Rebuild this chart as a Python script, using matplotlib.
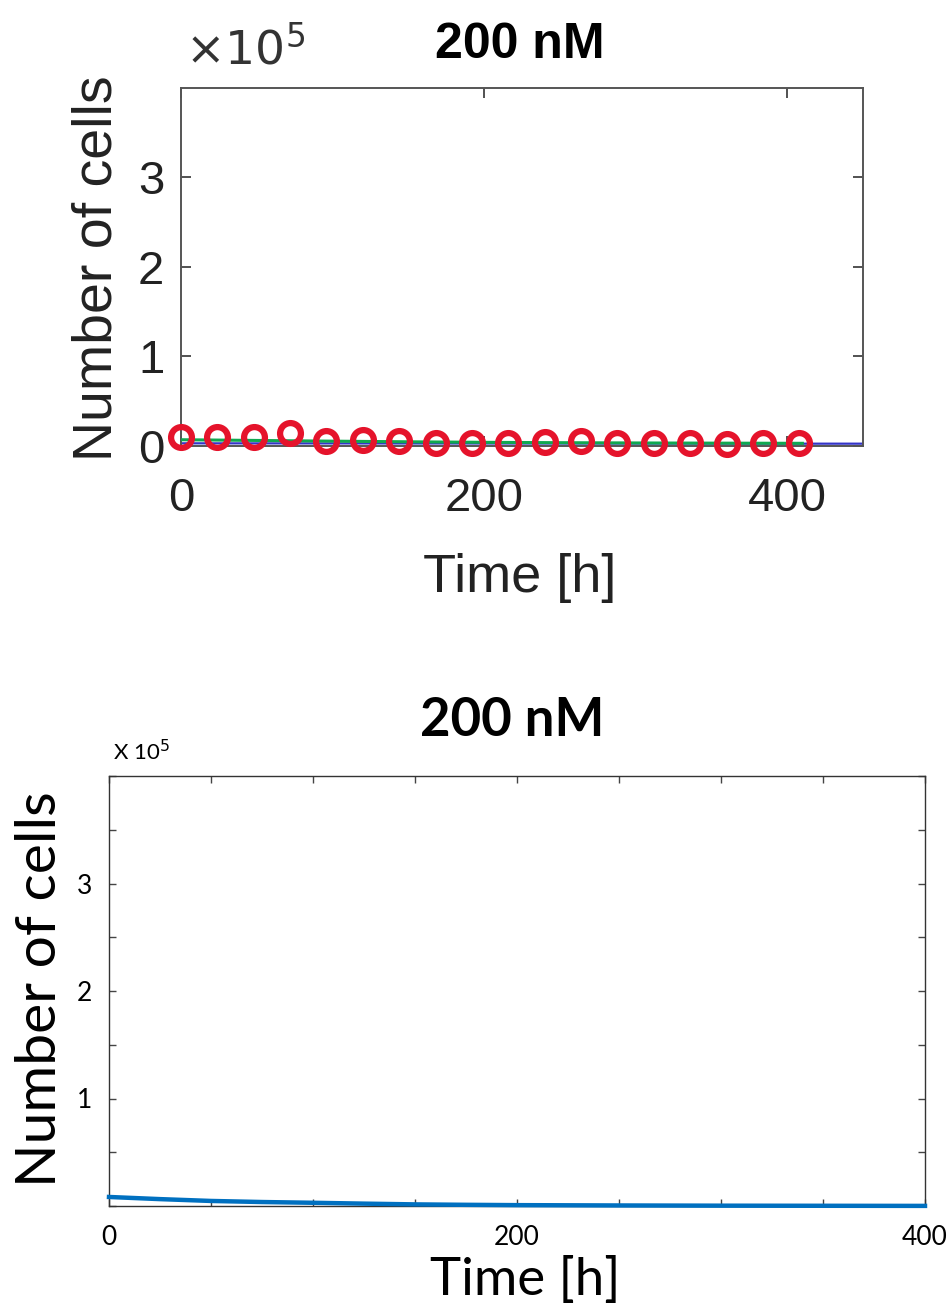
import numpy as np
import matplotlib
matplotlib.use("Agg")
import matplotlib.pyplot as plt
from matplotlib.ticker import MultipleLocator, FixedLocator

# ---- data ----
# top panel: measured cell counts (red circles), every 24 h
t_obs = [0, 24, 48, 72, 96, 120, 144, 168, 192, 216, 240, 264, 288, 312, 336, 360, 384, 408]
n_obs = [10400, 10000, 10000, 14500, 5600, 6700, 5500, 3400, 3400, 3400,
         4800, 5900, 3400, 3400, 3400, 2200, 3400, 3400]

# top panel: fitted curves
t_green = [0, 50, 100, 150, 200, 250, 300, 350, 410]
n_green = [7000, 6200, 5400, 4700, 4100, 3700, 3400, 3200, 3000]
t_blue = [0, 100, 200, 300, 400, 450]
n_blue = [3000, 2900, 2800, 2700, 2600, 2600]

# bottom panel: simulated curve
t_sim = [0, 25, 50, 75, 100, 125, 150, 175, 200, 250, 300, 350, 400]
n_sim = [8400, 6400, 4700, 3700, 3000, 2200, 1500, 1100, 800, 500, 300, 200, 100]

W, H = 949, 1308
fig = plt.figure(figsize=(W / 100, H / 100), dpi=100)

# ---------------- top panel (MATLAB look, Arial) ----------------
arial = "Liberation Sans"
ax1 = fig.add_axes([181 / W, 1 - 446 / H, 682 / W, 358 / H])
ax1.plot(t_blue, n_blue, color="#3434C8", lw=1.6, zorder=2)
ax1.plot(t_green, n_green, color="#10A850", lw=2.2, zorder=3)
ax1.plot(t_obs, n_obs, "o", mfc="none", mec="#E5132B", ms=15, mew=4.5,
         zorder=4, clip_on=False)
ax1.set_xlim(0, 450)
ax1.set_ylim(0, 4e5)
ax1.xaxis.set_major_locator(FixedLocator([0, 200, 400]))
ax1.yaxis.set_major_locator(FixedLocator([0, 1e5, 2e5, 3e5]))
ax1.set_xticklabels(["0", "200", "400"])
ax1.set_yticklabels(["0", "1", "2", "3"])
ax1.tick_params(direction="in", length=7, width=1.2, top=True, right=True,
                colors="#333333", labelcolor="#222222", labelsize=34)
ax1.tick_params(axis="x", pad=22)
ax1.tick_params(axis="y", pad=12)
for lab in ax1.get_xticklabels() + ax1.get_yticklabels():
    lab.set_fontfamily(arial)
for sp in ax1.spines.values():
    sp.set_color("#555555")
    sp.set_linewidth(1.4)
ax1.set_xlabel("Time [h]", fontsize=39, family=arial, color="#222222")
ax1.set_ylabel("Number of cells", fontsize=40, family=arial, color="#222222")
ax1.xaxis.set_label_coords(0.497, -0.369)
ax1.yaxis.set_label_coords(-0.122, 0.497)
ax1.xaxis.label.set_va("center")
ax1.yaxis.label.set_va("center")
fig.text(520 / W, 1 - 45 / H, "200 nM", ha="center", va="center",
         fontsize=36, fontweight="bold", family=arial)
fig.text(185 / W, 1 - 50 / H, r"$\times 10^{5}$", ha="left", va="center",
         fontsize=34, color="#333333", family=arial,
         math_fontfamily="dejavusans")

# ---------------- bottom panel (Excel look, Calibri-like) ----------------
cal = "Lato"
ax2 = fig.add_axes([109 / W, 1 - 1206 / H, 816 / W, 430 / H])
ax2.plot(t_sim, n_sim, color="#0070C0", lw=3.2, zorder=3, clip_on=False)
ax2.set_xlim(0, 400)
ax2.set_ylim(0, 4e5)
ax2.xaxis.set_major_locator(FixedLocator([0, 200, 400]))
ax2.xaxis.set_minor_locator(MultipleLocator(50))
ax2.yaxis.set_major_locator(FixedLocator([1e5, 2e5, 3e5]))
ax2.yaxis.set_minor_locator(MultipleLocator(0.5e5))
ax2.set_xticklabels(["0", "200", "400"])
ax2.set_yticklabels(["1", "2", "3"])
ax2.tick_params(which="both", direction="in", length=5, width=1.0, top=True,
                right=True, colors="#444444", labelcolor="black", labelsize=19)
ax2.tick_params(axis="x", pad=14)
ax2.tick_params(axis="y", pad=12)
for lab in ax2.get_xticklabels() + ax2.get_yticklabels():
    lab.set_fontfamily(cal)
for sp in ax2.spines.values():
    sp.set_color("#333333")
    sp.set_linewidth(1.0)
ax2.set_xlabel("Time [h]", fontsize=38, family=cal)
ax2.set_ylabel("Number of cells", fontsize=41, family=cal)
ax2.xaxis.set_label_coords(0.51, -0.172)
ax2.yaxis.set_label_coords(-0.084, 0.505)
ax2.xaxis.label.set_va("center")
ax2.yaxis.label.set_va("center")
fig.text(512 / W, 1 - 720 / H, "200 nM", ha="center", va="center",
         fontsize=38, fontweight="bold", family=cal)
fig.text(113 / W, 1 - 752 / H, r"X 10$^{5}$", ha="left", va="center",
         fontsize=16, family=cal)

fig.savefig("out.png", dpi=100)
